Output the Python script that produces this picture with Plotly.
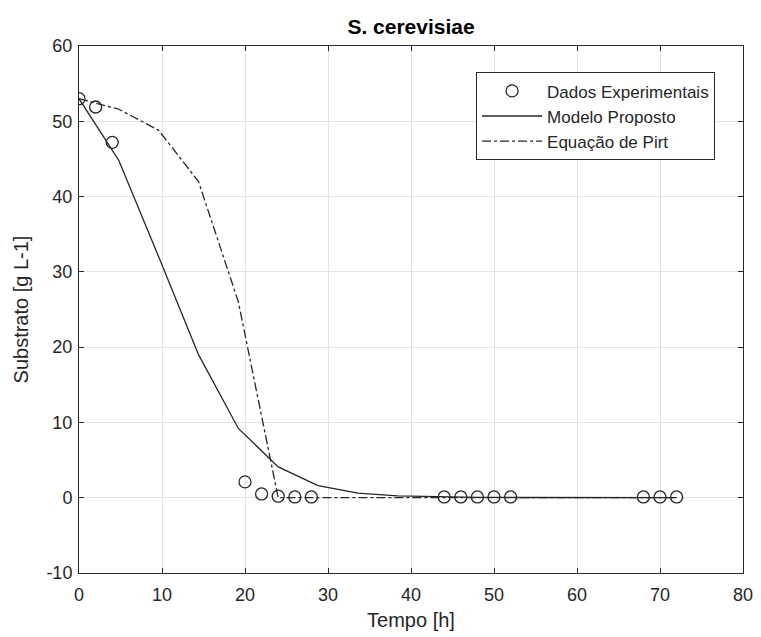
import plotly.graph_objects as go

# Experimental data
t_exp = [0, 2, 4, 20, 22, 24, 26, 28, 44, 46, 48, 50, 52, 68, 70, 72]
s_exp = [53, 51.9, 47.2, 2.1, 0.5, 0.2, 0.1, 0.1, 0.1, 0.1, 0.1, 0.1, 0.1, 0.1, 0.1, 0.1]

# Model time grid
t_mod = [0, 4.8, 9.6, 14.4, 19.2, 24, 28.8, 33.6, 38.4, 43.2, 48, 52.8, 57.6, 62.4, 67.2, 72]
s_model = [53, 44.8, 32.0, 19.0, 9.2, 4.1, 1.6, 0.6, 0.25, 0.1, 0.05, 0.03, 0.02, 0.01, 0.01, 0.01]
s_pirt = [53, 51.6, 48.8, 42.0, 26.0, 0.0, 0, 0, 0, 0, 0, 0, 0, 0, 0, 0]

x_ticks = [0, 10, 20, 30, 40, 50, 60, 70, 80]
y_ticks = [-10, 0, 10, 20, 30, 40, 50, 60]

FONT = "Liberation Sans, Arial, Helvetica, sans-serif"
INK = "#262626"

fig = go.Figure()
fig.add_trace(go.Scatter(
    x=t_exp, y=s_exp, mode="markers", name="Dados Experimentais",
    marker=dict(symbol="circle-open", size=12, color=INK, line=dict(width=1.3, color=INK)),
))
fig.add_trace(go.Scatter(
    x=t_mod, y=s_model, mode="lines", name="Modelo Proposto",
    line=dict(color=INK, width=1.3),
))
fig.add_trace(go.Scatter(
    x=t_mod, y=s_pirt, mode="lines", name="Equação de Pirt",
    line=dict(color=INK, width=1.3, dash="dashdot"),
))

axis_common = dict(
    showline=True, linecolor=INK, linewidth=1, mirror="ticks",
    ticks="inside", ticklen=5, tickcolor=INK,
    showgrid=True, gridcolor="#e3e3e3", gridwidth=1,
    zeroline=False, automargin=False,
    tickfont=dict(family=FONT, size=18, color=INK),
)

fig.update_xaxes(
    range=[0, 80], tickvals=x_ticks, ticktext=[str(v) for v in x_ticks],
    ticklabelstandoff=5,
    title=dict(text="Tempo [h]", font=dict(family=FONT, size=20, color=INK), standoff=9),
    **axis_common,
)
fig.update_yaxes(
    range=[-10, 60], tickvals=y_ticks, ticktext=[str(v) for v in y_ticks],
    ticklabelstandoff=2,
    title=dict(text="Substrato [g L-1]", font=dict(family=FONT, size=20, color=INK), standoff=12),
    **axis_common,
)

fig.update_layout(
    width=761, height=637,
    margin=dict(l=71, r=26, t=38, b=72),
    paper_bgcolor="white", plot_bgcolor="white",
    title=dict(text="<b>S. cerevisiae</b>", x=0.5296, xanchor="center",
               y=1 - 19 / 637, yanchor="middle", yref="container",
               font=dict(family=FONT, size=21, color="black")),
    legend=dict(
        x=0.598, y=0.95, xanchor="left", yanchor="top",
        bgcolor="white", bordercolor=INK, borderwidth=1,
        font=dict(family=FONT, size=17, color=INK),
        itemwidth=60, tracegroupgap=0,
    ),
    showlegend=True,
)

fig.write_html("out.html")
